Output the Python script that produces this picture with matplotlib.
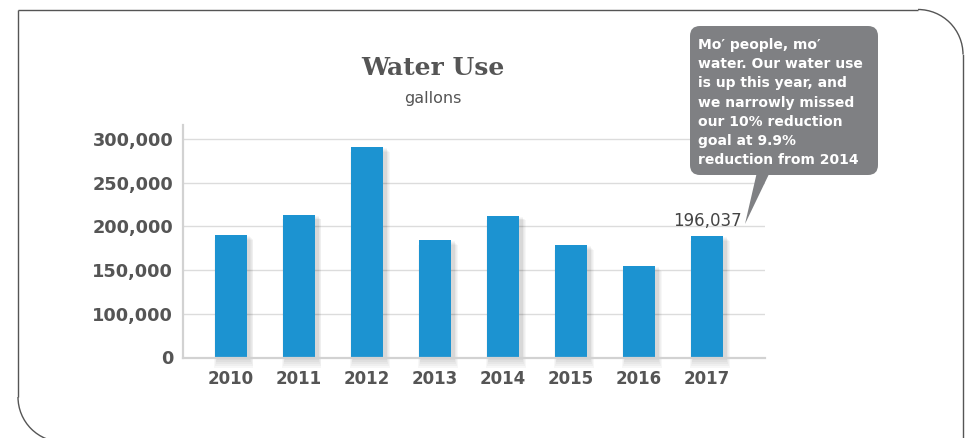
import matplotlib.pyplot as plt
from matplotlib.patches import FancyBboxPatch, Polygon, Arc

# Data
years = ['2010', '2011', '2012', '2013', '2014', '2015', '2016', '2017']
gallons = [190500, 213400, 290400, 184700, 212300, 179000, 154900, 189300]
label_2017 = '196,037'
tick_values = [50000, 100000, 150000, 200000, 250000, 300000]
tick_labels = ['0', '100,000', '150,000', '200,000', '250,000', '300,000']
callout_lines = ["Mo\u2032 people, mo\u2032",
                 "water. Our water use",
                 "is up this year, and",
                 "we narrowly missed",
                 "our 10% reduction",
                 "goal at 9.9%",
                 "reduction from 2014"]

W, H = 966, 438
BAR = '#1c93d1'
GREY_TXT = '#555555'
Y0 = 50000

fig = plt.figure(figsize=(W / 100, H / 100), dpi=100)
fig.patch.set_facecolor('white')

# main bar axes (pixel placement)
ax = fig.add_axes([183 / W, (H - 357.5) / H, (765 - 183) / W, (357.5 - 125) / H])
x = list(range(len(years)))

# soft drop shadow
for k in range(1, 6):
    ax.bar([i + 0.04 for i in x], [g - Y0 + 1400 * k for g in gallons],
           bottom=Y0 - 2500 * k, width=0.47 + 0.022 * k,
           color='#000000', alpha=0.03, linewidth=0, zorder=2, clip_on=False)
ax.bar(x, [g - Y0 for g in gallons], bottom=Y0, width=0.47,
       color=BAR, linewidth=0, zorder=3)

ax.set_ylim(Y0, 316000)
ax.set_xlim(-0.706, 7.85)
ax.set_yticks(tick_values)
ax.set_yticklabels(tick_labels)
ax.set_xticks(x)
ax.set_xticklabels(years)
ax.tick_params(length=0, colors=GREY_TXT, labelsize=12)
ax.tick_params(axis='y', pad=7, labelsize=12.8)
ax.tick_params(axis='x', pad=9)
for lab in ax.get_xticklabels() + ax.get_yticklabels():
    lab.set_fontweight('bold')
    lab.set_color(GREY_TXT)

ax.grid(axis='y', color='#dcdcdc', linewidth=1.0, zorder=0)
ax.set_axisbelow(True)
for side in ['top', 'right']:
    ax.spines[side].set_visible(False)
for side in ['left', 'bottom']:
    ax.spines[side].set_color('#d2d2d2')
    ax.spines[side].set_linewidth(1.6)
    ax.spines[side].set_zorder(4)

ax.annotate(label_2017, xy=(7, gallons[7]), xytext=(0, 7), textcoords='offset points',
            ha='center', va='baseline', fontsize=12, color='#444444', zorder=6)

# overlay in pixel coordinates for frame, title and callout
ov = fig.add_axes([0, 0, 1, 1], zorder=5)
ov.set_xlim(0, W)
ov.set_ylim(H, 0)
ov.axis('off')
ov.patch.set_alpha(0)

# outer frame: square top-left, rounded top-right and bottom-left
R = 45
L, T, Rt, B = 18, 9.5, 963, 442
fc = '#555555'
ov.plot([L, L], [B - R, T], color=fc, lw=1.0, solid_capstyle='butt')
ov.plot([L, Rt - R], [T, T], color=fc, lw=1.0, solid_capstyle='butt')
ov.plot([Rt, Rt], [T + R, H + 5], color=fc, lw=1.0, clip_on=False)
ov.add_patch(Arc((Rt - R, T + R), 2 * R, 2 * R, theta1=270, theta2=360,
                 color=fc, lw=1.0))
ov.add_patch(Arc((L + R, B - R), 2 * R, 2 * R, theta1=90, theta2=180,
                 color=fc, lw=1.0))

# title
ov.text(433, 68, 'Water Use', ha='center', va='center', fontsize=18,
        fontweight='bold', family='DejaVu Serif', color=GREY_TXT)
ov.text(433, 98, 'gallons', ha='center', va='center', fontsize=11.5, color=GREY_TXT)

# callout bubble
CALL = '#7f8083'
ov.add_patch(FancyBboxPatch((690, 26), 188, 149, boxstyle='round,pad=0,rounding_size=10',
                            facecolor=CALL, edgecolor='none'))
ov.add_patch(Polygon([(757, 172), (770, 172), (745, 224)], closed=True,
                     facecolor=CALL, edgecolor='none'))
for n, line in enumerate(callout_lines):
    ov.text(698, 45 + 19.2 * n, line, ha='left', va='center', fontsize=10,
            fontweight='bold', color='white')

fig.savefig('out.png', dpi=100)
